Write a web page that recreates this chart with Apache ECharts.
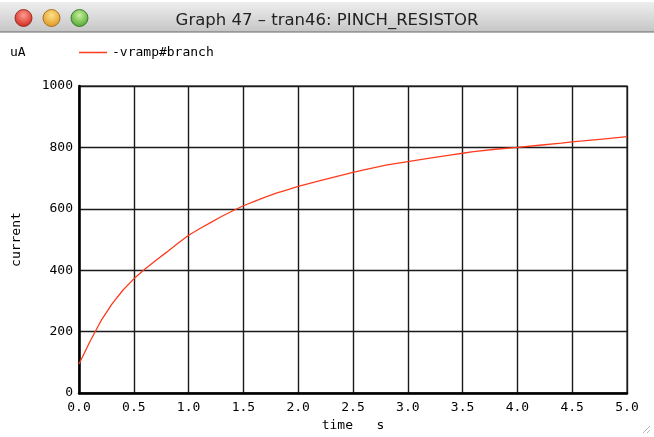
<!DOCTYPE html>
<html>
<head>
<meta charset="utf-8">
<script src="https://cdn.jsdelivr.net/npm/echarts@6/dist/echarts.min.js"></script>
<style>
html,body{margin:0;padding:0;background:#fff;}
#chart{width:654px;height:437px;}
</style>
</head>
<body>
<div id="chart"></div>
<script>
// Data
var windowTitle = 'Graph 47 \u2013 tran46: PINCH_RESISTOR';
var unitLabel = 'uA';
var seriesName = '-vramp#branch';
var xAxisName = 'time   s';
var yAxisName = 'current';
var timeValues = [0, 0.1, 0.2, 0.3, 0.4, 0.5, 0.6, 0.7, 0.8, 0.9, 1.0, 1.1, 1.2, 1.3, 1.4, 1.5, 1.6, 1.7, 1.8, 1.9, 2.0, 2.2, 2.4, 2.5, 2.6, 2.8, 3.0, 3.2, 3.4, 3.5, 3.6, 3.8, 4.0, 4.2, 4.4, 4.5, 4.6, 4.8, 5.0];
var currentValues = [95, 168, 235, 290, 335, 372, 403, 432, 459, 487, 514, 535, 555, 575, 593, 610, 624, 638, 651, 662, 673, 692, 710, 719, 727, 742, 754, 765, 776, 781, 786, 794, 800, 807, 814, 818, 821, 828, 835];

var points = timeValues.map(function (t, i) { return [t, currentValues[i]]; });

var chart = echarts.init(document.getElementById('chart'), null, {renderer: 'canvas'});
var mono = '"DejaVu Sans Mono", "Liberation Mono", monospace';

chart.setOption({
  animation: false,
  backgroundColor: '#ffffff',
  title: {
    text: windowTitle,
    left: 'center',
    top: 7,
    textStyle: {fontFamily: '"DejaVu Sans", sans-serif', fontSize: 16.5, fontWeight: 'normal', color: '#222'}
  },
  graphic: [
    {type: 'rect', z: -10, shape: {x: 0, y: 2, width: 654, height: 30},
      style: {fill: new echarts.graphic.LinearGradient(0, 0, 0, 1, [{offset: 0, color: '#eeeeee'}, {offset: 1, color: '#c6c6c6'}])}},
    {type: 'line', z: -9, shape: {x1: 0, y1: 32, x2: 654, y2: 32}, style: {stroke: '#666', lineWidth: 1}},
    {type: 'circle', shape: {cx: 23.5, cy: 18, r: 8.5},
      style: {fill: new echarts.graphic.RadialGradient(0.5, 0.35, 0.75, [{offset: 0, color: '#ff9c8f'}, {offset: 1, color: '#c8140c'}]), stroke: '#8a1a10', lineWidth: 0.8}},
    {type: 'circle', shape: {cx: 51.5, cy: 18, r: 8.5},
      style: {fill: new echarts.graphic.RadialGradient(0.5, 0.35, 0.75, [{offset: 0, color: '#ffe28a'}, {offset: 1, color: '#d98a10'}]), stroke: '#9a6010', lineWidth: 0.8}},
    {type: 'circle', shape: {cx: 79.5, cy: 18, r: 8.5},
      style: {fill: new echarts.graphic.RadialGradient(0.5, 0.35, 0.75, [{offset: 0, color: '#c8f09a'}, {offset: 1, color: '#3a9a20'}]), stroke: '#2a6a18', lineWidth: 0.8}},
    {type: 'text', left: 10, top: 46, style: {text: unitLabel, font: '13px ' + mono, fill: '#000'}},
    {type: 'line', shape: {x1: 650, y1: 426, x2: 643, y2: 433}, style: {stroke: '#bbb', lineWidth: 1}},
    {type: 'line', shape: {x1: 650, y1: 430, x2: 647, y2: 433}, style: {stroke: '#bbb', lineWidth: 1}}
  ],
  legend: {
    left: 79,
    top: 46,
    padding: 0,
    icon: 'rect',
    itemWidth: 28,
    itemHeight: 1.5,
    itemGap: 6,
    textStyle: {fontFamily: mono, fontSize: 13, color: '#000'},
    data: [seriesName]
  },
  grid: {
    left: 79,
    right: 27,
    top: 86,
    bottom: 43,
    show: true,
    borderColor: '#555',
    borderWidth: 1.5,
    backgroundColor: 'transparent'
  },
  xAxis: {
    type: 'value',
    min: 0,
    max: 5,
    interval: 0.5,
    name: xAxisName,
    nameLocation: 'middle',
    nameGap: 25,
    nameTextStyle: {fontFamily: mono, fontSize: 13, color: '#000'},
    axisLine: {show: true, onZero: false, lineStyle: {color: '#000', width: 2.5}},
    axisTick: {show: false},
    splitLine: {show: true, lineStyle: {color: '#1a1a1a', width: 1.4}},
    axisLabel: {fontFamily: mono, fontSize: 13, color: '#000', margin: 8,
      formatter: function (v) { return v.toFixed(1); }}
  },
  yAxis: {
    type: 'value',
    min: 0,
    max: 1000,
    interval: 200,
    name: yAxisName,
    nameLocation: 'middle',
    nameGap: 56,
    nameTextStyle: {fontFamily: mono, fontSize: 13, color: '#000'},
    axisLine: {show: true, onZero: false, lineStyle: {color: '#000', width: 2.5}},
    axisTick: {show: false},
    splitLine: {show: true, lineStyle: {color: '#1a1a1a', width: 1.4}},
    axisLabel: {fontFamily: mono, fontSize: 13, color: '#000', margin: 6,
      formatter: function (v) { return String(v); }}
  },
  series: [{
    name: seriesName,
    type: 'line',
    data: points,
    showSymbol: false,
    symbol: 'none',
    smooth: false,
    lineStyle: {color: '#ff3b1e', width: 1.3},
    itemStyle: {color: '#ff3b1e'},
    z: 5
  }]
});
</script>
</body>
</html>
